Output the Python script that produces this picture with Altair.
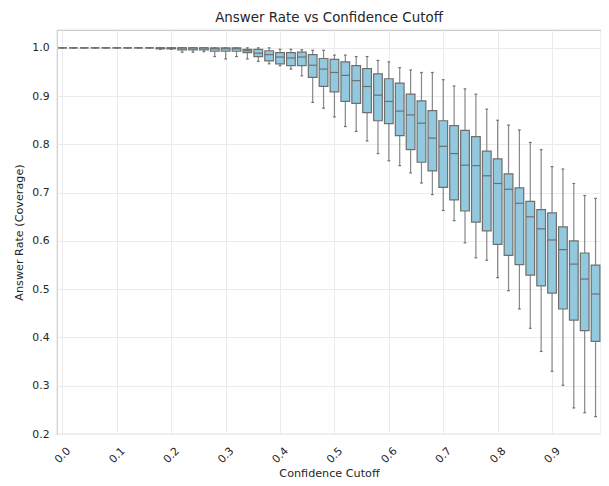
import altair as alt
import pandas as pd

cutoffs = [0.00, 0.02, 0.04, 0.06, 0.08, 0.10, 0.12, 0.14, 0.16, 0.18,
           0.20, 0.22, 0.24, 0.26, 0.28, 0.30, 0.32, 0.34, 0.36, 0.38,
           0.40, 0.42, 0.44, 0.46, 0.48, 0.50, 0.52, 0.54, 0.56, 0.58,
           0.60, 0.62, 0.64, 0.66, 0.68, 0.70, 0.72, 0.74, 0.76, 0.78,
           0.80, 0.82, 0.84, 0.86, 0.88, 0.90, 0.92, 0.94, 0.96, 0.98]

whisk_lo = [1.0, 1.0, 1.0, 1.0, 1.0, 1.0, 1.0, 1.0, 1.0, 0.997,
            0.997, 0.991, 0.991, 0.992, 0.982, 0.977, 0.982, 0.977, 0.972, 0.967,
            0.963, 0.956, 0.942, 0.887, 0.875, 0.857, 0.837, 0.827, 0.807, 0.781,
            0.766, 0.756, 0.741, 0.720, 0.696, 0.663, 0.642, 0.596, 0.565, 0.560,
            0.524, 0.497, 0.459, 0.419, 0.371, 0.330, 0.301, 0.254, 0.244, 0.236]

q1 = [1.0, 1.0, 1.0, 1.0, 1.0, 1.0, 1.0, 1.0, 1.0, 0.998,
      0.998, 0.996, 0.996, 0.996, 0.993, 0.993, 0.993, 0.990, 0.982, 0.973,
      0.967, 0.963, 0.963, 0.939, 0.920, 0.909, 0.889, 0.885, 0.866, 0.849,
      0.843, 0.818, 0.789, 0.763, 0.745, 0.711, 0.685, 0.662, 0.639, 0.621,
      0.593, 0.570, 0.551, 0.529, 0.507, 0.492, 0.459, 0.436, 0.414, 0.392]

median = [1.0, 1.0, 1.0, 1.0, 1.0, 1.0, 1.0, 1.0, 1.0, 1.0,
          1.0, 1.0, 1.0, 1.0, 0.998, 0.998, 0.998, 0.994, 0.989, 0.986,
          0.981, 0.979, 0.981, 0.964, 0.956, 0.949, 0.943, 0.932, 0.920, 0.902,
          0.889, 0.869, 0.861, 0.844, 0.813, 0.796, 0.781, 0.757, 0.756, 0.735,
          0.719, 0.707, 0.678, 0.650, 0.625, 0.602, 0.582, 0.552, 0.521, 0.490]

q3 = [1.0, 1.0, 1.0, 1.0, 1.0, 1.0, 1.0, 1.0, 1.0, 1.0,
      1.0, 1.0, 1.0, 1.0, 1.0, 1.0, 1.0, 0.997, 0.997, 0.994,
      0.990, 0.990, 0.991, 0.986, 0.978, 0.976, 0.971, 0.963, 0.957, 0.946,
      0.936, 0.927, 0.904, 0.890, 0.870, 0.849, 0.839, 0.829, 0.816, 0.786,
      0.770, 0.739, 0.710, 0.682, 0.665, 0.658, 0.629, 0.600, 0.575, 0.550]

whisk_hi = [1.0, 1.0, 1.0, 1.0, 1.0, 1.0, 1.0, 1.0, 1.0, 1.0,
            1.0, 1.0, 1.0, 1.0, 1.0, 1.0, 1.0, 1.0, 1.0, 1.0,
            0.997, 0.997, 0.996, 0.995, 0.995, 0.985, 0.985, 0.982, 0.982, 0.974,
            0.971, 0.959, 0.954, 0.949, 0.949, 0.934, 0.921, 0.915, 0.904, 0.873,
            0.850, 0.840, 0.830, 0.804, 0.789, 0.754, 0.749, 0.719, 0.694, 0.688]

x_ticks = [0.0, 0.1, 0.2, 0.3, 0.4, 0.5, 0.6, 0.7, 0.8, 0.9]
y_ticks = [0.2, 0.3, 0.4, 0.5, 0.6, 0.7, 0.8, 0.9, 1.0]

df = pd.DataFrame({
    "cutoff": cutoffs, "lo": whisk_lo, "q1": q1, "med": median,
    "q3": q3, "hi": whisk_hi,
})

TEXT = "#262626"
LINE = "#6f6f6f"
FILL = "#93c9de"

xs = alt.Scale(domain=[-0.01, 0.99], nice=False, zero=False)
ys = alt.Scale(domain=[0.2, 1.037], nice=False, zero=False)

x_axis = alt.Axis(values=x_ticks, format=".1f", title="Confidence Cutoff",
                  labelAngle=315, labelAlign="center", labelBaseline="middle",
                  labelPadding=21, titlePadding=3)
y_axis = alt.Axis(values=y_ticks, format=".1f", title="Answer Rate (Coverage)",
                  labelPadding=8, titlePadding=7)

base = alt.Chart(df).transform_calculate(
    xl="datum.cutoff - 0.008", xr="datum.cutoff + 0.008",
    cl="datum.cutoff - 0.0025", cr="datum.cutoff + 0.0025",
)

whiskers = base.mark_rule(color="#888888", strokeWidth=1.2).encode(
    x=alt.X("cutoff:Q", scale=xs, axis=x_axis),
    y=alt.Y("lo:Q", scale=ys, axis=y_axis),
    y2="hi:Q",
)
cap_lo = base.mark_rule(color=LINE, strokeWidth=1.2).encode(
    x=alt.X("cl:Q", scale=xs), x2="cr:Q", y=alt.Y("lo:Q", scale=ys))
cap_hi = base.mark_rule(color=LINE, strokeWidth=1.2).encode(
    x=alt.X("cl:Q", scale=xs), x2="cr:Q", y=alt.Y("hi:Q", scale=ys))
boxes = base.mark_bar(fill=FILL, stroke=LINE, strokeWidth=1.2).encode(
    x=alt.X("xl:Q", scale=xs), x2="xr:Q",
    y=alt.Y("q1:Q", scale=ys), y2="q3:Q")
medians = base.mark_rule(color=LINE, strokeWidth=1.2).encode(
    x=alt.X("xl:Q", scale=xs), x2="xr:Q", y=alt.Y("med:Q", scale=ys))

chart = alt.layer(whiskers, cap_lo, cap_hi, boxes, medians).properties(
    width=544, height=404,
    title=alt.Title("Answer Rate vs Confidence Cutoff", fontSize=13.4,
                    font="DejaVu Sans", fontWeight="normal", color=TEXT,
                    offset=6, anchor="middle"),
    autosize=alt.AutoSizeParams(type="none"),
    padding={"left": 49, "top": 22, "right": 0, "bottom": 50},
).configure_view(
    stroke="#cccccc", strokeWidth=1.2,
).configure_axis(
    grid=True, gridColor="#ebebeb", gridWidth=1,
    ticks=False, tickSize=0, domain=False,
    labelFont="DejaVu Sans", labelFontSize=10.8, labelColor=TEXT,
    titleFont="DejaVu Sans", titleFontSize=11.2, titleFontWeight="normal",
    titleColor=TEXT,
)

chart.save("out.html", embed_options={"renderer": "svg", "actions": False})
